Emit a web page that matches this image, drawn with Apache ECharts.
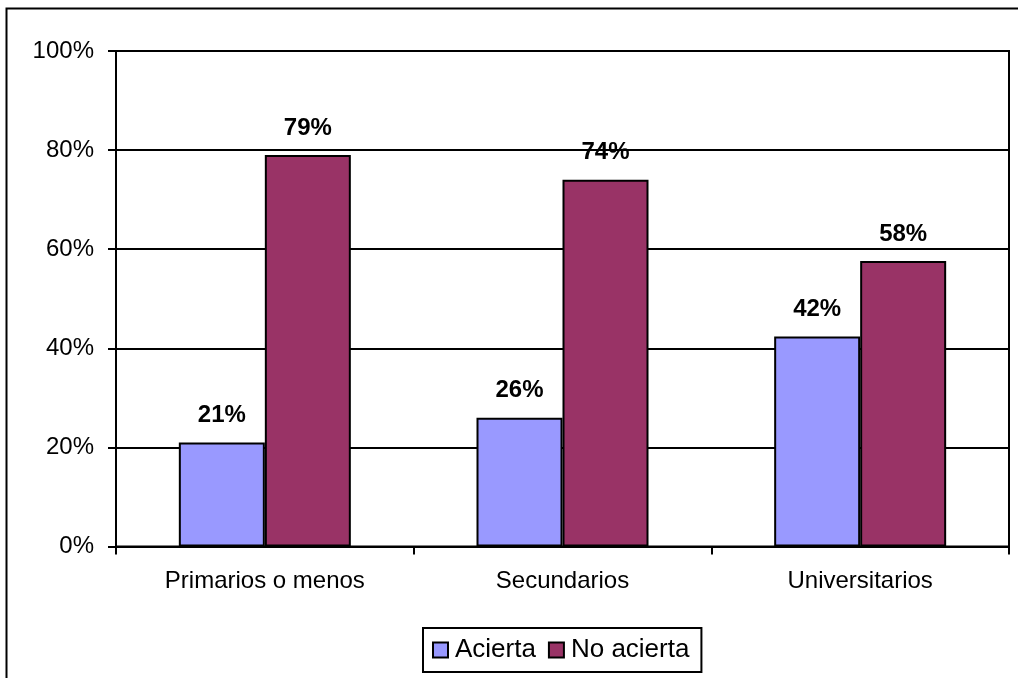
<!DOCTYPE html>
<html>
<head>
<meta charset="utf-8">
<script src="https://cdn.jsdelivr.net/npm/echarts@6/dist/echarts.min.js"></script>
<style>
html,body{margin:0;padding:0;background:#fff;}
#chart{width:1018px;height:678px;}
</style>
</head>
<body>
<div id="chart"></div>
<script>
const categories = ['Primarios o menos', 'Secundarios', 'Universitarios'];
const acierta = [21, 26, 42.4];
const noAcierta = [79, 74, 57.6];
const seriesNames = ['Acierta', 'No acierta'];
const yTicks = [0, 20, 40, 60, 80, 100];

const font = '"Liberation Sans", Arial, sans-serif';
const chart = echarts.init(document.getElementById('chart'), null, {renderer: 'canvas'});

const labelCfg = {
  show: true,
  position: 'top',
  distance: 15,
  formatter: p => Math.round(p.value) + '%',
  fontFamily: font,
  fontWeight: 'bold',
  fontSize: 24,
  color: '#000'
};

chart.setOption({
  backgroundColor: '#fff',
  animation: false,
  graphic: [{
    type: 'rect',
    shape: {x: 6.5, y: 8.5, width: 1200, height: 1000},
    style: {fill: 'none', stroke: '#000', lineWidth: 2},
    silent: true,
    z: -1
  }],
  grid: {
    left: 116, right: 9, top: 51, bottom: 131.5,
    show: true, borderColor: '#000', borderWidth: 2, backgroundColor: 'transparent'
  },
  legend: {
    data: seriesNames,
    left: 423, top: 628,
    orient: 'horizontal',
    padding: [9, 12, 9, 9],
    itemGap: 12,
    itemWidth: 15, itemHeight: 15,
    icon: 'rect',
    borderColor: '#000', borderWidth: 2,
    textStyle: {fontFamily: font, fontSize: 26, color: '#000', padding: [0, 0, 0, 2]}
  },
  xAxis: {
    type: 'category',
    data: categories,
    axisLine: {lineStyle: {color: '#000', width: 2}},
    axisTick: {show: true, length: 8, lineStyle: {color: '#000', width: 2}},
    axisLabel: {fontFamily: font, fontSize: 24, color: '#000', margin: 23},
    splitLine: {show: false}
  },
  yAxis: {
    type: 'value',
    min: yTicks[0], max: yTicks[yTicks.length - 1], interval: 20,
    axisLine: {show: true, lineStyle: {color: '#000', width: 2}},
    axisTick: {show: true, length: 8, lineStyle: {color: '#000', width: 2}},
    axisLabel: {fontFamily: font, fontSize: 24, color: '#000', margin: 22, formatter: v => v + '%'},
    splitLine: {show: true, lineStyle: {color: '#000', width: 2}}
  },
  series: [
    {
      name: seriesNames[0], type: 'bar', data: acierta,
      barWidth: 86, barGap: '0%',
      itemStyle: {color: '#9999FF', borderColor: '#000', borderWidth: 2},
      label: labelCfg
    },
    {
      name: seriesNames[1], type: 'bar', data: noAcierta,
      barWidth: 86, barGap: '0%',
      itemStyle: {color: '#993366', borderColor: '#000', borderWidth: 2},
      label: labelCfg
    }
  ]
});
</script>
</body>
</html>
